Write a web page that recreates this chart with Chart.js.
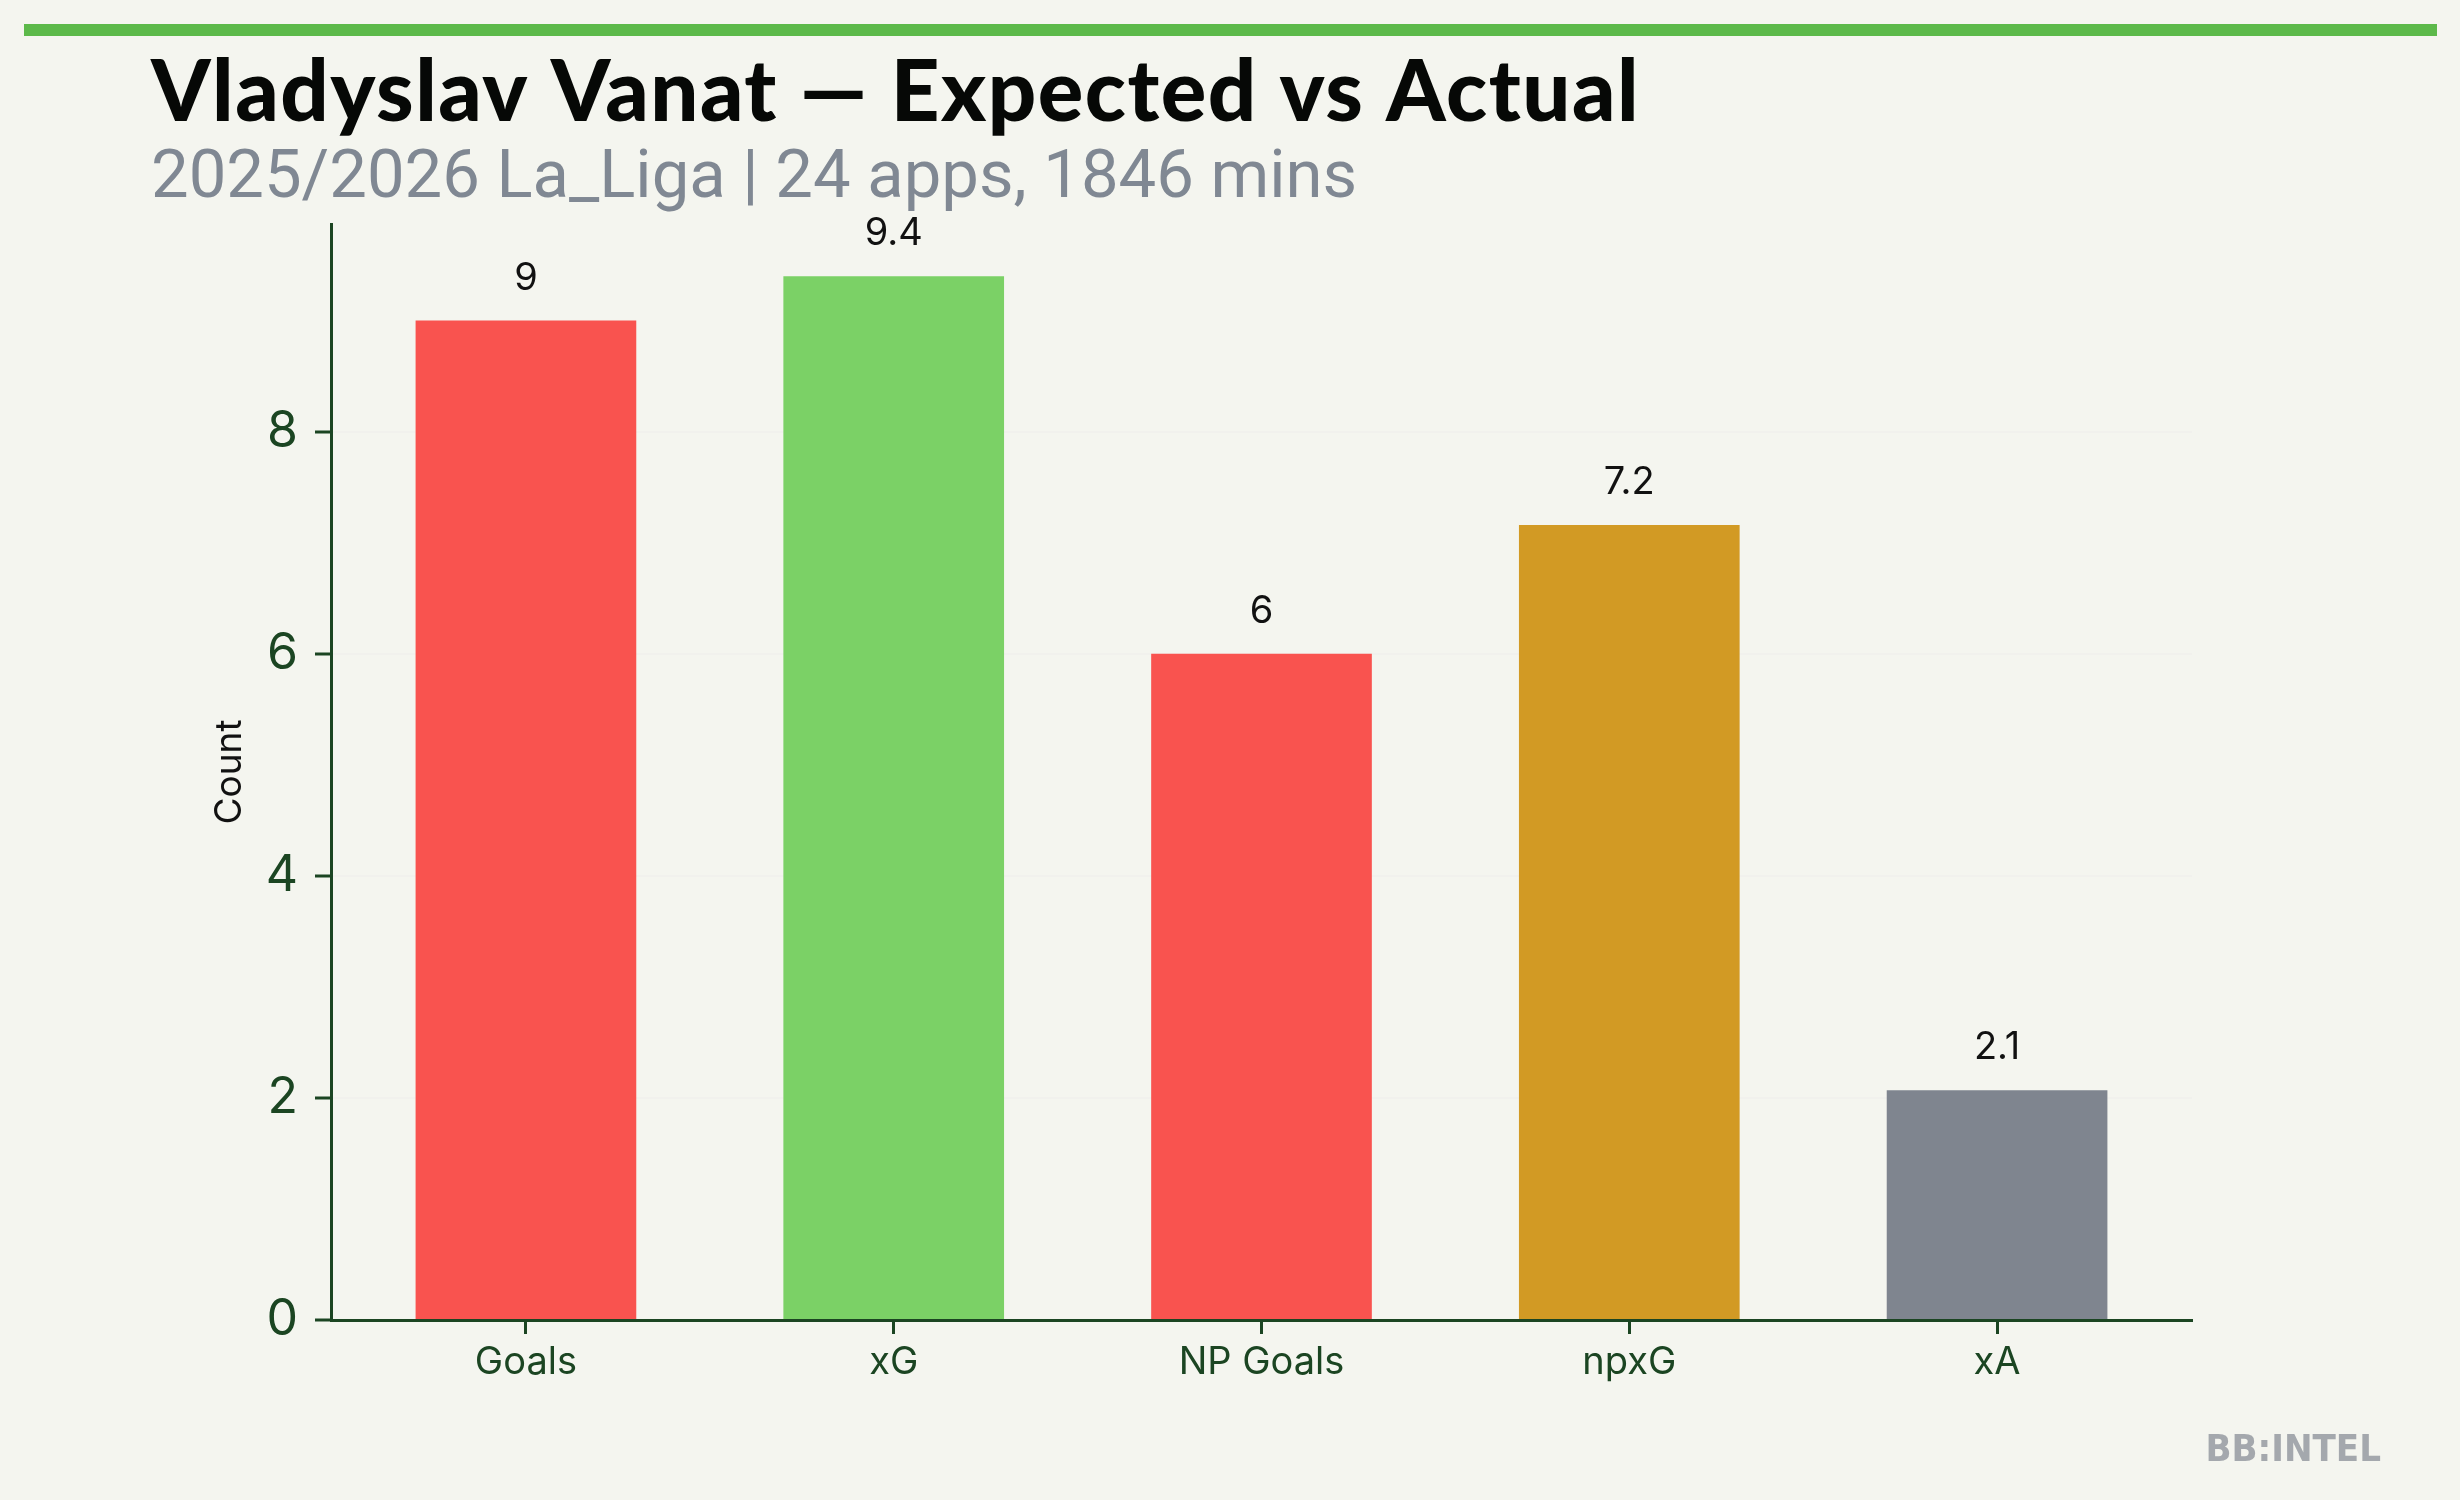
<!DOCTYPE html>
<html>
<head>
<meta charset="utf-8">
<script src="https://cdn.jsdelivr.net/npm/chart.js@4.4.1/dist/chart.umd.min.js"></script>
<style>
  html, body { margin: 0; padding: 0; background: #f4f5ef; }
  #wrap { width: 2460px; height: 1500px; position: relative; }
</style>
</head>
<body>
<div id="wrap"><canvas id="chart" width="2460" height="1500"></canvas></div>
<script>
// ---- data ----
const categories = ["Goals", "xG", "NP Goals", "npxG", "xA"];
const values = [9, 9.4, 6, 7.16, 2.07];
const barColors = ["#f9534f", "#7bd166", "#f9534f", "#d29a24", "#7f858f"];
const yTicks = [0, 2, 4, 6, 8];

const titleText = "Vladyslav Vanat \u2014 Expected vs Actual";
const subtitleText = "2025/2026 La_Liga | 24 apps, 1846 mins";
const brandText = "BB:INTEL";

const axisGreen = "#1b4522";

// header, watermark and bar value labels
const decorPlugin = {
  id: "decor",
  beforeDraw(chart) {
    const ctx = chart.ctx;
    ctx.save();
    ctx.fillStyle = "#f4f5ef";
    ctx.fillRect(0, 0, chart.width, chart.height);

    // green strip
    ctx.fillStyle = "#5cb94a";
    ctx.fillRect(24, 24, 2413, 12);

    // title
    ctx.fillStyle = "#060806";
    ctx.textBaseline = "alphabetic";
    ctx.textAlign = "left";
    ctx.font = "900 85px Lato";
    ctx.letterSpacing = "1.5px";
    ctx.fillText(titleText, 151, 121);

    // subtitle
    ctx.letterSpacing = "0px";
    ctx.fillStyle = "#808893";
    ctx.font = "400 67px Roboto";
    ctx.fillText(subtitleText, 151, 197);

    // brand
    ctx.fillStyle = "#a4a8ad";
    ctx.font = "bold 38px 'Liberation Sans Narrow', 'DejaVu Sans Condensed'";
    ctx.textAlign = "right";
    ctx.fillText(brandText, 2381, 1461);
    ctx.restore();
  },
  afterDatasetsDraw(chart) {
    const ctx = chart.ctx;
    const meta = chart.getDatasetMeta(0);
    ctx.save();
    ctx.fillStyle = "#111111";
    ctx.font = "400 38px Inter";
    ctx.textAlign = "center";
    ctx.textBaseline = "alphabetic";
    meta.data.forEach((bar, i) => {
      const v = values[i];
      const label = Number.isInteger(v) ? String(v) : v.toFixed(1);
      ctx.fillText(label, bar.x, bar.y - 31);
    });
    ctx.restore();
  },
};

const ctx = document.getElementById("chart").getContext("2d");

new Chart(ctx, {
  type: "bar",
  data: {
    datasets: [
      {
        data: categories.map((c, i) => ({ x: i, y: values[i] })),
        backgroundColor: barColors,
        borderWidth: 0,
        categoryPercentage: 1,
        barPercentage: 0.6,
      },
    ],
  },
  options: {
    responsive: false,
    animation: false,
    layout: { padding: { top: 224, left: 208, right: 268, bottom: 80 } },
    plugins: {
      legend: { display: false },
      tooltip: { enabled: false },
    },
    scales: {
      x: {
        type: "linear",
        min: -0.53,
        max: 4.53,
        offset: false,
        afterBuildTicks: (s) => {
          s.ticks = categories.map((c, i) => ({ value: i }));
        },
        afterFit: (s) => {
          s.height = 100;
        },
        ticks: {
          callback: (v) => categories[v],
          color: axisGreen,
          font: { family: "Inter", size: 38 },
          padding: 6,
          maxRotation: 0,
          autoSkip: false,
        },
        grid: {
          offset: false,
          drawOnChartArea: false,
          drawTicks: true,
          tickLength: 14,
          tickColor: axisGreen,
          tickWidth: 3,
        },
        border: { color: axisGreen, width: 3 },
      },
      y: {
        min: 0,
        max: 9.87,
        z: 1,
        afterBuildTicks: (s) => {
          s.ticks = yTicks.map((v) => ({ value: v }));
        },
        afterFit: (s) => {
          s.width = 123;
        },
        title: {
          display: true,
          text: "Count",
          color: "#111111",
          font: { family: "Inter", size: 37 },
          padding: 0,
        },
        ticks: {
          color: axisGreen,
          font: { family: "Inter", size: 50 },
          padding: 17,
        },
        grid: {
          color: "rgba(230,230,225,0.18)",
          lineWidth: 2,
          tickLength: 16,
          tickColor: axisGreen,
          tickWidth: 3,
        },
        border: { color: axisGreen, width: 3 },
      },
    },
  },
  plugins: [decorPlugin],
});
</script>
</body>
</html>
